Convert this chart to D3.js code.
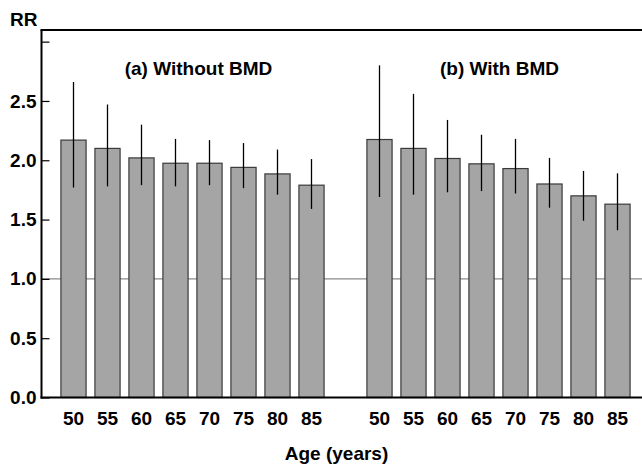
<!DOCTYPE html>
<html><head><meta charset="utf-8">
<script src="https://cdn.jsdelivr.net/npm/d3@7"></script>
<style>
body{margin:0;background:#fff;}
text{font-family:"Liberation Sans",Arial,sans-serif;font-weight:bold;fill:#000;}
</style></head>
<body><svg id="c" width="642" height="464"></svg>
<script>
const ages = ["50","55","60","65","70","75","80","85"];
const panelTitles = ["(a) Without BMD","(b) With BMD"];
const rrWithout = [2.17,2.10,2.02,1.975,1.975,1.94,1.885,1.79];
const loWithout = [1.77,1.78,1.79,1.78,1.79,1.765,1.71,1.59];
const hiWithout = [2.66,2.47,2.30,2.18,2.17,2.145,2.09,2.01];
const rrWith = [2.175,2.10,2.015,1.97,1.93,1.80,1.70,1.63];
const loWith = [1.69,1.71,1.73,1.74,1.72,1.60,1.49,1.41];
const hiWith = [2.80,2.56,2.34,2.215,2.18,2.02,1.91,1.89];
const yTicks = [0,0.5,1.0,1.5,2.0,2.5,3.0];
const yLabels = ["0.0","0.5","1.0","1.5","2.0","2.5",""];

const svg = d3.select("#c");
const data = [];
ages.forEach((a,i)=>data.push({key:"a"+a,age:a,rr:rrWithout[i],lo:loWithout[i],hi:hiWithout[i]}));
const keys = data.map(d=>d.key).concat(["gap"]);
ages.forEach((a,i)=>{data.push({key:"b"+a,age:a,rr:rrWith[i],lo:loWith[i],hi:hiWith[i]});keys.push("b"+a);});

const x = d3.scaleBand().domain(keys).range([56.5,634.5]).paddingInner(0.26).paddingOuter(0.13);
const y = d3.scaleLinear().domain([0,3.094]).range([397.5,30.5]);
const axisX = 41.5;
const fs = "19px";

// reference line at 1.0
svg.append("line").attr("x1",axisX).attr("x2",642).attr("y1",y(1)).attr("y2",y(1))
  .attr("stroke","#8a8a8a").attr("stroke-width",1.2);

// bars
svg.selectAll("rect.bar").data(data).enter().append("rect")
  .attr("x",d=>x(d.key)).attr("width",x.bandwidth())
  .attr("y",d=>y(d.rr)).attr("height",d=>y(0)-y(d.rr))
  .attr("fill","#a5a5a5").attr("stroke","#3a3a3a").attr("stroke-width",1.2);

// error bars
svg.selectAll("line.err").data(data).enter().append("line")
  .attr("x1",d=>x(d.key)+x.bandwidth()/2).attr("x2",d=>x(d.key)+x.bandwidth()/2)
  .attr("y1",d=>y(d.lo)).attr("y2",d=>y(d.hi))
  .attr("stroke","#000").attr("stroke-width",1.3);

// y axis
const yAxis = d3.axisRight(y).tickValues(yTicks).tickFormat((d,i)=>yLabels[i]).tickSize(8);
const gy = svg.append("g").attr("transform",`translate(${axisX},0)`).call(yAxis);
gy.select(".domain").remove();
gy.selectAll(".tick line").attr("stroke","#000").attr("stroke-width",1.2);
gy.selectAll(".tick text").attr("text-anchor","end").attr("x",-5).attr("font-size",fs);
svg.append("line").attr("x1",axisX).attr("x2",axisX).attr("y1",30).attr("y2",398.5).attr("stroke","#000").attr("stroke-width",2);

// frame lines top and bottom
svg.append("line").attr("x1",axisX-1).attr("x2",642).attr("y1",30).attr("y2",30).attr("stroke","#000").attr("stroke-width",2);
svg.append("line").attr("x1",axisX-1).attr("x2",642).attr("y1",397.5).attr("y2",397.5).attr("stroke","#000").attr("stroke-width",2.2);

// x axis labels
const xAxis = d3.axisBottom(x).tickValues(keys.filter(k=>k!=="gap")).tickFormat(k=>k.slice(1)).tickSize(0).tickPadding(14.5);
const gx = svg.append("g").attr("transform",`translate(0,${y(0)})`).call(xAxis);
gx.select(".domain").remove();
gx.selectAll(".tick text").attr("font-size",fs);

// titles
svg.append("text").attr("x",x("a65")+x.bandwidth()+(x.step()-x.bandwidth())/2 + 6).attr("y",75).attr("text-anchor","middle").attr("font-size",fs).text(panelTitles[0]);
svg.append("text").attr("x",x("b65")+x.bandwidth()+(x.step()-x.bandwidth())/2 + 1).attr("y",75).attr("text-anchor","middle").attr("font-size",fs).text(panelTitles[1]);
svg.append("text").attr("x",10).attr("y",26).attr("font-size",fs).text("RR");
svg.append("text").attr("x",336.5).attr("y",460).attr("text-anchor","middle").attr("font-size",fs).text("Age (years)");
</script></body></html>
